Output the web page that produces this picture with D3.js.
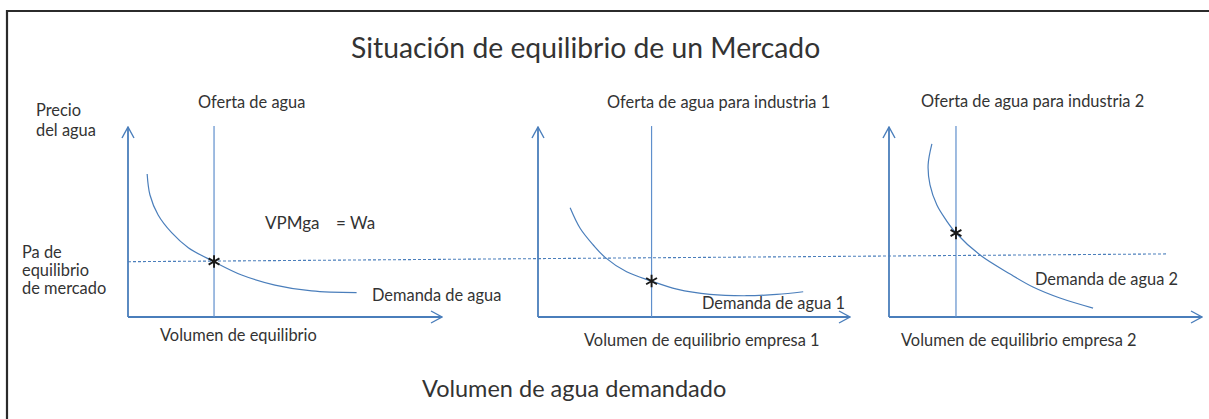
<!DOCTYPE html>
<html>
<head>
<meta charset="utf-8">
<script src="https://cdn.jsdelivr.net/npm/d3@7"></script>
<style>
   html, body { margin: 0; padding: 0; overflow: hidden; background: #fff; }
   svg { display: block; }
   svg text { font-family: Lato, "Open Sans", sans-serif; fill: #333; }
</style>
</head>
<body>
<svg id="chart" width="1209" height="419"></svg>
<script>
// Each panel uses a 0-100 price / volume space
var panelNames = ["mercado", "industria1", "industria2"];

var demandMercado = [
   [6.1, 75.3], [7.0, 64.2], [9.6, 53.7], [13.9, 44.4], [19.2, 36.5],
   [27.4, 29.1], [36.2, 22.1], [46.8, 16.8], [58.5, 13.7], [72.8, 12.8]
];
var demandIndustria1 = [
   [10.3, 57.5], [13.5, 46.7], [17.7, 37.9], [21.5, 31.4], [28.4, 23.8], [36.4, 18.9],
   [44.5, 14.7], [55.1, 11.9], [66.9, 11.2], [76.5, 11.9], [85.0, 13.3]
];
var demandIndustria2 = [
   [13.7, 91.1], [12.5, 80.0], [13.1, 69.5], [15.3, 58.9], [18.2, 51.1],
   [21.4, 44.2], [29.1, 32.6], [38.7, 22.6], [46.0, 15.8], [54.6, 10.0], [65.2, 4.7]
];

// supply (vertical) volume for each panel
var supplyVolumes = [27.4, 36.4, 21.4];
// equilibrium points (asterisks)
var equilibria = [[27.4, 29.2], [36.4, 18.9], [21.4, 44.2]];
// market price line: starts in panel 1, ends in panel 3
var priceLineStart = [0, 29.1];
var priceLineEnd = [88.5, 33.2];

var supplyLabels = ["Oferta de agua", "Oferta de agua para industria 1", "Oferta de agua para industria 2"];
var demandLabels = ["Demanda de agua", "Demanda de agua 1", "Demanda de agua 2"];
var volumeLabels = ["Volumen de equilibrio", "Volumen de equilibrio empresa 1", "Volumen de equilibrio empresa 2"];

var titleText = "Situación de equilibrio de un Mercado";
var bottomText = "Volumen de agua demandado";
var yAxisLabel = ["Precio", "del agua"];
var priceLabel = ["Pa  de", "equilibrio", "de mercado"];

var chart = {
   blue: "#4a7ebb",
   init: function() {
      var svg = d3.select("#chart");
      var me = this;
      var demands = [demandMercado, demandIndustria1, demandIndustria2];

      // pixel frames of the three little charts
      var frames = [
         { left: 128, right: 442 },
         { left: 538, right: 850 },
         { left: 889, right: 1202 }
      ];
      var y = d3.scaleLinear().domain([0, 100]).range([317, 127]);
      var xs = frames.map(function(f) {
         return d3.scaleLinear().domain([0, 100]).range([f.left, f.right]);
      });

      // outer frame, only left and top edges are visible in the source
      svg.append("path")
         .attr("d", "M7,430 V11 H1220")
         .attr("fill", "none")
         .attr("stroke", "#2b2b2b")
         .attr("stroke-width", 2.2);

      // open arrow heads
      var defs = svg.append("defs");
      defs.append("marker")
         .attr("id", "arrow")
         .attr("viewBox", "0 0 13 14")
         .attr("refX", 12).attr("refY", 7)
         .attr("markerWidth", 13).attr("markerHeight", 14)
         .attr("markerUnits", "userSpaceOnUse")
         .attr("orient", "auto")
         .append("path")
         .attr("d", "M1,1 L12,7 L1,13")
         .attr("fill", "none")
         .attr("stroke", me.blue)
         .attr("stroke-width", 1.4);

      var line = d3.line()
         .curve(d3.curveCatmullRom.alpha(0.5));

      panelNames.forEach(function(name, i) {
         var x = xs[i];
         var g = svg.append("g").attr("class", "panel " + name);

         // axes
         g.append("line")
            .attr("x1", x(0)).attr("y1", y(0))
            .attr("x2", x(0)).attr("y2", y(100))
            .attr("stroke", me.blue).attr("stroke-width", 1.8)
            .attr("marker-end", "url(#arrow)");
         g.append("line")
            .attr("x1", x(0)).attr("y1", y(0))
            .attr("x2", x(100)).attr("y2", y(0))
            .attr("stroke", me.blue).attr("stroke-width", 1.8)
            .attr("marker-end", "url(#arrow)");

         // supply line
         g.append("line")
            .attr("x1", x(supplyVolumes[i])).attr("y1", y(0))
            .attr("x2", x(supplyVolumes[i])).attr("y2", y(100.5))
            .attr("stroke", "#5f8fcc").attr("stroke-width", 1.2);

         // demand curve
         g.append("path")
            .attr("d", line(demands[i].map(function(d) { return [x(d[0]), y(d[1])]; })))
            .attr("fill", "none")
            .attr("stroke", me.blue)
            .attr("stroke-width", 1.2);
      });

      // market price, dashed across all panels
      svg.append("line")
         .attr("x1", xs[0](priceLineStart[0])).attr("y1", y(priceLineStart[1]))
         .attr("x2", xs[2](priceLineEnd[0])).attr("y2", y(priceLineEnd[1]))
         .attr("stroke", me.blue)
         .attr("stroke-width", 1.1)
         .attr("stroke-dasharray", "3,2");

      // equilibrium asterisks
      equilibria.forEach(function(d, i) {
         svg.append("path")
            .attr("transform", "translate(" + xs[i](d[0]) + "," + y(d[1]) + ")")
            .attr("d", d3.symbol(d3.symbolAsterisk, 110)())
            .attr("fill", "none")
            .attr("stroke", "#1a1a1a")
            .attr("stroke-width", 1.9);
      });

      me.drawText(svg);
   },

   drawText: function(svg) {
      function label(txt, x, yy, size) {
         svg.append("text")
            .attr("x", x).attr("y", yy)
            .attr("font-size", size)
            .text(txt);
      }

      label(titleText, 351, 58, 28.3);
      label(bottomText, 422, 397, 23.5);

      yAxisLabel.forEach(function(t, i) { label(t, 36, 116 + i * 20, 16.4); });
      priceLabel.forEach(function(t, i) { label(t, 22, 258 + i * 18, 16.4); });

      // per panel labels
      var supplyPos = [[198, 108], [607, 108], [921, 107]];
      var demandPos = [[372, 301], [702, 309], [1035, 285]];
      var volumePos = [[160, 341], [584, 346], [901, 346]];
      supplyLabels.forEach(function(t, i) { label(t, supplyPos[i][0], supplyPos[i][1], 16.4); });
      demandLabels.forEach(function(t, i) { label(t, demandPos[i][0], demandPos[i][1], 16.4); });
      volumeLabels.forEach(function(t, i) { label(t, volumePos[i][0], volumePos[i][1], 16.4); });

      label("VPMga", 265, 229, 17);
      label("= Wa", 336, 229, 17);
   }
};

chart.init();
</script>
</body>
</html>
